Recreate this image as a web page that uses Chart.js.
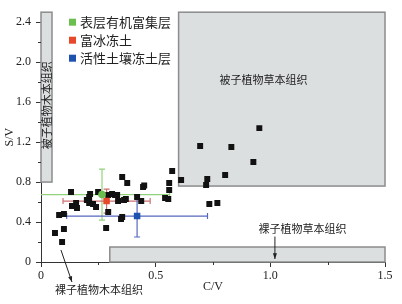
<!DOCTYPE html>
<html>
<head>
<meta charset="utf-8">
<script src="https://cdn.jsdelivr.net/npm/chart.js@4.4.0/dist/chart.umd.min.js"></script>
<style>
  body { margin: 0; background: #fff; }
</style>
</head>
<body>
<canvas id="chart" width="402" height="304"></canvas>
<script>
// samples: C/V and S/V
const sampleCV = [0.131, 0.249, 0.214, 0.21, 0.20, 0.153, 0.135, 0.157, 0.21, 0.227, 0.24,
  0.293, 0.293, 0.31, 0.323, 0.332, 0.336, 0.354, 0.376, 0.362, 0.37, 0.419, 0.437, 0.445,
  0.45, 0.349, 0.354, 0.284, 0.079, 0.10, 0.061, 0.10, 0.092, 0.572, 0.611, 0.559, 0.559,
  0.541, 0.555, 0.694, 0.83, 0.952, 0.926, 0.803, 0.725, 0.72, 0.734, 0.769];
const sampleSV = [0.70, 0.70, 0.68, 0.65, 0.62, 0.59, 0.56, 0.54, 0.59, 0.58, 0.55,
  0.67, 0.50, 0.68, 0.67, 0.67, 0.61, 0.85, 0.79, 0.62, 0.63, 0.65, 0.61, 0.75,
  0.765, 0.43, 0.45, 0.34, 0.47, 0.48, 0.29, 0.33, 0.20, 0.91, 0.82, 0.79, 0.72,
  0.64, 0.63, 1.16, 1.15, 1.34, 1.00, 0.87, 0.83, 0.77, 0.58, 0.59];

// layer means with error bars
const layerNames = ['表层有机富集层', '富冰冻土', '活性土壤冻土层'];
const layerCV = [0.266, 0.286, 0.419];
const layerSV = [0.675, 0.61, 0.46];
const layerCVErr = [0.295, 0.19, 0.307];
const layerSVErr = [0.255, 0.12, 0.21];
const layerColors = ['#6cbf4e', '#e9472a', '#1d52b0'];
const errColors = ['#93d27c', '#cc7070', '#5667bf'];

// source fields: [min, max]
const regionNames = ['被子植物木本组织', '被子植物草本组织', '裸子植物草本组织'];
const regionCV = [[0, 0.048], [0.6, 1.5], [0.3, 1.5]];
const regionSV = [[0.8, 2.5], [0.76, 2.5], [0, 0.15]];
const outsideName = '裸子植物木本组织';

const xTicks = [0, 0.5, 1.0, 1.5];
const yTicks = [0, 0.4, 0.8, 1.2, 1.6, 2.0, 2.4];
const xMinor = [0.25, 0.75, 1.25];
const yMinor = [0.2, 0.6, 1.0, 1.4, 1.8, 2.2];

const cjk = '"Noto Sans CJK SC"';
const serif = '"Liberation Serif"';

function arrow(ctx, x0, y0, x1, y1) {
  ctx.beginPath();
  ctx.moveTo(x0, y0);
  ctx.lineTo(x1, y1);
  ctx.stroke();
  const ang = Math.atan2(y1 - y0, x1 - x0);
  ctx.beginPath();
  ctx.moveTo(x1, y1);
  ctx.lineTo(x1 - 6 * Math.cos(ang - 0.35), y1 - 6 * Math.sin(ang - 0.35));
  ctx.lineTo(x1 - 6 * Math.cos(ang + 0.35), y1 - 6 * Math.sin(ang + 0.35));
  ctx.closePath();
  ctx.fill();
}

const extras = {
  id: 'extras',
  beforeDatasetsDraw(chart) {
    const { ctx, chartArea: a, scales: { x, y } } = chart;
    ctx.save();
    // field boxes
    regionCV.forEach((cv, i) => {
      const x0 = x.getPixelForValue(cv[0]), x1 = x.getPixelForValue(cv[1]);
      const y0 = y.getPixelForValue(regionSV[i][1]), y1 = y.getPixelForValue(regionSV[i][0]);
      ctx.fillStyle = '#dcdfe0';
      ctx.fillRect(x0, y0, x1 - x0, y1 - y0);
      ctx.strokeStyle = '#8c8c8c';
      ctx.lineWidth = 1.5;
      ctx.strokeRect(x0, y0, x1 - x0, y1 - y0);
    });

    ctx.fillStyle = '#222';
    ctx.strokeStyle = '#222';
    ctx.lineWidth = 1;
    ctx.font = '11px ' + cjk;
    ctx.textAlign = 'center';
    ctx.textBaseline = 'middle';
    // vertical label in left box
    ctx.save();
    ctx.translate(x.getPixelForValue(0.026), y.getPixelForValue(1.57));
    ctx.rotate(-Math.PI / 2);
    ctx.fillText(regionNames[0], 0, 0);
    ctx.restore();
    ctx.fillText(regionNames[1], x.getPixelForValue(0.97), y.getPixelForValue(1.82));
    ctx.fillText(regionNames[2], x.getPixelForValue(1.14), y.getPixelForValue(0.33));
    arrow(ctx, x.getPixelForValue(1.02), y.getPixelForValue(0.255), x.getPixelForValue(1.02), y.getPixelForValue(0.03));
    // label below axis
    ctx.fillText(outsideName, x.getPixelForValue(0.253), a.bottom + 28);
    arrow(ctx, x.getPixelForValue(0.087), y.getPixelForValue(0.12), x.getPixelForValue(0.135), a.bottom + 20);

    // error bars
    ctx.beginPath();
    ctx.rect(a.left, a.top, a.right - a.left, a.bottom - a.top);
    ctx.clip();
    layerCV.forEach((cx, i) => {
      const xc = x.getPixelForValue(cx), yc = y.getPixelForValue(layerSV[i]);
      const xl = x.getPixelForValue(cx - layerCVErr[i]), xr = x.getPixelForValue(cx + layerCVErr[i]);
      const yt = y.getPixelForValue(layerSV[i] + layerSVErr[i]), yb = y.getPixelForValue(layerSV[i] - layerSVErr[i]);
      ctx.strokeStyle = errColors[i];
      ctx.lineWidth = 1.2;
      ctx.beginPath();
      ctx.moveTo(xl, yc); ctx.lineTo(xr, yc);
      ctx.moveTo(xl, yc - 3); ctx.lineTo(xl, yc + 3);
      ctx.moveTo(xr, yc - 3); ctx.lineTo(xr, yc + 3);
      ctx.moveTo(xc, yt); ctx.lineTo(xc, yb);
      ctx.moveTo(xc - 3, yt); ctx.lineTo(xc + 3, yt);
      ctx.moveTo(xc - 3, yb); ctx.lineTo(xc + 3, yb);
      ctx.stroke();
    });
    ctx.restore();
  },
  afterDraw(chart) {
    const { ctx, chartArea: a, scales: { x, y } } = chart;
    ctx.save();
    // minor ticks
    ctx.strokeStyle = '#333';
    ctx.lineWidth = 1;
    ctx.beginPath();
    yMinor.forEach(v => {
      const p = Math.round(y.getPixelForValue(v)) + 0.5;
      ctx.moveTo(a.left - 3, p); ctx.lineTo(a.left, p);
    });
    xMinor.forEach(v => {
      const p = Math.round(x.getPixelForValue(v)) + 0.5;
      ctx.moveTo(p, a.bottom); ctx.lineTo(p, a.bottom + 3);
    });
    ctx.stroke();

    // legend
    ctx.font = '13px ' + cjk;
    ctx.textAlign = 'left';
    ctx.textBaseline = 'middle';
    layerNames.forEach((name, i) => {
      const yy = a.top + 10 + i * 18;
      ctx.fillStyle = layerColors[i];
      ctx.fillRect(a.left + 28, yy - 3.5, 7, 7);
      ctx.fillStyle = '#222';
      ctx.fillText(name, a.left + 39, yy);
    });
    ctx.restore();
  }
};

const datasets = layerNames.map((name, i) => ({
  label: name,
  data: [{ x: layerCV[i], y: layerSV[i] }],
  pointStyle: i === 0 ? 'circle' : 'rect',
  pointRadius: i === 0 ? 3.8 : 4.6,
  backgroundColor: layerColors[i],
  borderColor: layerColors[i],
  borderWidth: 0,
  order: 0
}));
datasets.push({
  label: 'samples',
  data: sampleCV.map((v, i) => ({ x: v, y: sampleSV[i] })),
  pointStyle: 'rect',
  pointRadius: 4.2,
  backgroundColor: '#111',
  borderColor: '#111',
  borderWidth: 0,
  order: 1
});

new Chart(document.getElementById('chart'), {
  type: 'scatter',
  data: { datasets },
  options: {
    responsive: false,
    animation: false,
    layout: { padding: { top: 6, right: 17, bottom: 9, left: 0 } },
    plugins: { legend: { display: false }, tooltip: { enabled: false } },
    scales: {
      x: {
        type: 'linear',
        min: 0,
        max: 1.5,
        afterBuildTicks: s => { s.ticks = xTicks.map(v => ({ value: v })); },
        afterFit: s => { s.height = 33; },
        border: { display: true, color: '#333', width: 1 },
        grid: { display: true, drawOnChartArea: false, drawTicks: true, tickLength: 5, color: '#333' },
        ticks: {
          padding: 2,
          color: '#222',
          font: { family: serif, size: 12 },
          callback: v => v === 0 ? '0' : v.toFixed(1)
        },
        title: { display: true, text: 'C/V', color: '#222', font: { family: serif, size: 12 }, padding: { top: 1, bottom: 1 } }
      },
      y: {
        type: 'linear',
        min: 0,
        max: 2.5,
        afterBuildTicks: s => { s.ticks = yTicks.map(v => ({ value: v })); },
        afterFit: s => { s.width = 41; },
        border: { display: true, color: '#333', width: 1 },
        grid: { display: true, drawOnChartArea: false, drawTicks: true, tickLength: 5, color: '#333' },
        ticks: {
          padding: 5,
          color: '#222',
          font: { family: serif, size: 12 },
          callback: v => v === 0 ? '0' : v.toFixed(1)
        },
        title: { display: true, text: 'S/V', color: '#222', font: { family: serif, size: 12 }, padding: { top: 3, bottom: 3 } }
      }
    }
  },
  plugins: [extras]
});
</script>
</body>
</html>
